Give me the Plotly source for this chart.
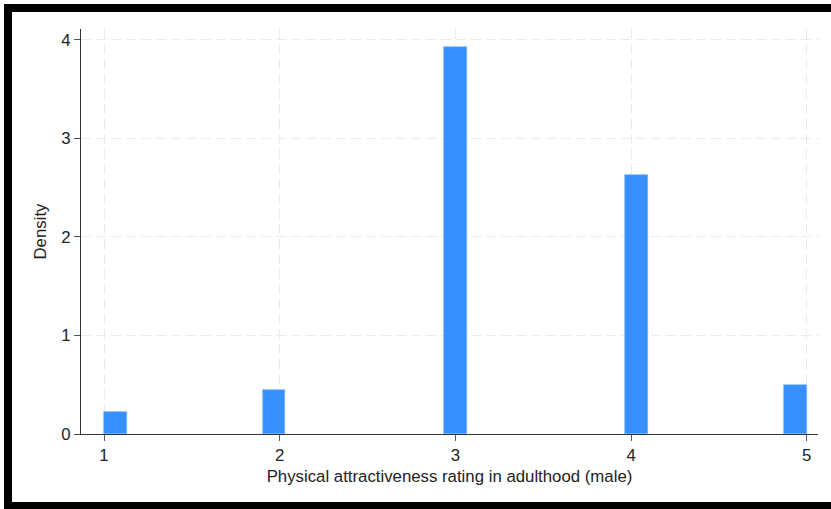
import plotly.graph_objects as go

# Histogram (31 bins from 1 to 5), densities
bin_start = 1.0
bin_end = 5.0
n_bins = 31
bin_index = [0, 7, 15, 23, 30]
density = [0.223, 0.45, 3.93, 2.63, 0.497]

x_ticks = [1, 2, 3, 4, 5]
y_ticks = [0, 1, 2, 3, 4]

width = (bin_end - bin_start) / n_bins
centers = [bin_start + (k + 0.5) * width for k in bin_index]

fig = go.Figure()
fig.add_trace(go.Bar(
    x=centers, y=density, width=width,
    marker=dict(color="#3790ff", line=dict(color="#6aaeff", width=0.6)),
    showlegend=False,
))

W, H = 831, 509
L, R, T, B = 81, 13, 29, 75
pw, ph = W - L - R, H - T - B

def px(x):
    return (x - L) / pw

def py(y):
    return (H - B - y) / ph

shapes = [
    dict(type="rect", xref="paper", yref="paper", x0=px(4), x1=px(831), y0=py(12), y1=py(4),
         fillcolor="black", line=dict(width=0), layer="above"),
    dict(type="rect", xref="paper", yref="paper", x0=px(4), x1=px(12), y0=py(509), y1=py(4),
         fillcolor="black", line=dict(width=0), layer="above"),
    dict(type="rect", xref="paper", yref="paper", x0=px(4), x1=px(831), y0=py(509), y1=py(502),
         fillcolor="black", line=dict(width=0), layer="above"),
]

axis_font = dict(family="Liberation Sans, Arial, sans-serif", size=16.8, color="#222")
grid = dict(showgrid=True, gridcolor="#ebebeb", griddash="10px,5px", gridwidth=1)
fig.update_layout(
    width=W, height=H,
    margin=dict(l=L, r=R, t=T, b=B),
    paper_bgcolor="white", plot_bgcolor="white",
    shapes=shapes,
    bargap=0,
    font=axis_font,
    xaxis=dict(
        range=[0.869, 5.064], tickvals=x_ticks, ticktext=[str(v) for v in x_ticks],
        showline=True, linecolor="#333", linewidth=1,
        ticks="outside", ticklen=6, tickcolor="#555",
        title=dict(text="Physical attractiveness rating in adulthood (male)", standoff=6, font=axis_font),
        tickfont=axis_font, zeroline=False, **grid,
    ),
    yaxis=dict(
        range=[0, 4.11], tickvals=y_ticks, ticktext=[str(v) for v in y_ticks],
        showline=True, linecolor="#333", linewidth=1,
        ticks="outside", ticklen=6, tickcolor="#555",
        title=dict(text="Density", standoff=10, font=axis_font),
        tickfont=axis_font, zeroline=False, **grid,
    ),
)

fig.write_html(
    "out.html",
    config={"displayModeBar": False},
    post_script="document.body.style.margin='0';document.body.style.overflow='hidden';",
)
